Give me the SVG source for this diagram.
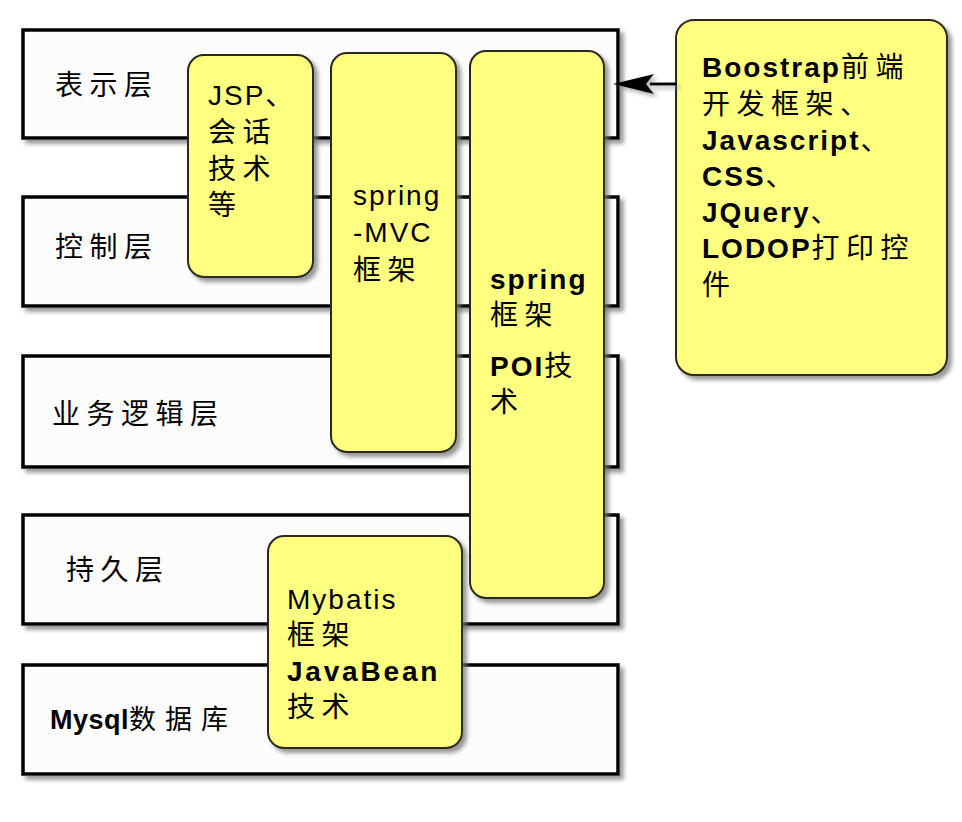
<svg xmlns="http://www.w3.org/2000/svg" width="962" height="822" viewBox="0 0 962 822">
<style>
text{font-family:"Liberation Sans","Noto Sans CJK SC",sans-serif;font-size:28px;fill:#000;letter-spacing:2px}
.b{font-weight:bold}
.c{letter-spacing:6.5px;font-weight:normal}
.layer{fill:#fcfcfc;stroke:#000;stroke-width:3.5}
.note{fill:#ffff80;stroke:#2a2a1a;stroke-width:2}
</style>
<defs>
<filter id="sh" x="-10%" y="-10%" width="130%" height="130%">
<feDropShadow dx="4" dy="4" stdDeviation="2.2" flood-color="#777" flood-opacity="0.75"/>
</filter>
<filter id="shu" filterUnits="userSpaceOnUse" x="590" y="60" width="110" height="50">
<feDropShadow dx="3" dy="3" stdDeviation="2" flood-color="#777" flood-opacity="0.6"/>
</filter>
</defs>
<rect width="962" height="822" fill="#fff"/>
<g id="layer-presentation">
<rect class="layer" x="23" y="30" width="595" height="108" filter="url(#sh)"/>
<text x="55" y="95"><tspan class="c">表示层</tspan></text>
</g>
<g id="layer-control">
<rect class="layer" x="23" y="197" width="595" height="109" filter="url(#sh)"/>
<text x="55" y="257"><tspan class="c">控制层</tspan></text>
</g>
<g id="layer-business">
<rect class="layer" x="23" y="356" width="595" height="111" filter="url(#sh)"/>
<text x="52" y="424"><tspan class="c">业务逻辑层</tspan></text>
</g>
<g id="layer-persistence">
<rect class="layer" x="23" y="515" width="595" height="109" filter="url(#sh)"/>
<text x="66" y="580"><tspan class="c">持久层</tspan></text>
</g>
<g id="layer-mysql">
<rect class="layer" x="23" y="665" width="595" height="109" filter="url(#sh)"/>
<text x="50" y="729" class="b" style="font-size:27px;letter-spacing:0.5px">Mysql<tspan class="c" style="letter-spacing:9px">数据库</tspan></text>
</g>
<g id="note-jsp">
<rect class="note" x="188" y="55" width="125" height="222" rx="16" filter="url(#sh)"/>
<text x="208" y="105">JSP<tspan class="c">、</tspan></text>
<text x="208" y="142"><tspan class="c">会话</tspan></text>
<text x="208" y="179"><tspan class="c">技术</tspan></text>
<text x="208" y="215"><tspan class="c">等</tspan></text>
</g>
<g id="note-springmvc">
<rect class="note" x="331" y="53" width="125" height="399" rx="16" filter="url(#sh)"/>
<text x="353" y="205">spring</text>
<text x="353" y="242">-MVC</text>
<text x="353" y="280"><tspan class="c">框架</tspan></text>
</g>
<g id="note-spring">
<rect class="note" x="470" y="51" width="134" height="547" rx="16" filter="url(#sh)"/>
<text x="490" y="289" class="b">spring</text>
<text x="490" y="325"><tspan class="c">框架</tspan></text>
<text x="490" y="376" class="b">POI<tspan class="c">技</tspan></text>
<text x="490" y="412"><tspan class="c">术</tspan></text>
</g>
<g id="note-mybatis">
<rect class="note" x="268" y="536" width="194" height="212" rx="16" filter="url(#sh)"/>
<text x="287" y="609">Mybatis</text>
<text x="287" y="645"><tspan class="c">框架</tspan></text>
<text x="287" y="681" class="b" style="letter-spacing:2.8px">JavaBean</text>
<text x="287" y="717"><tspan class="c">技术</tspan></text>
</g>
<g id="note-frontend">
<rect class="note" x="676" y="20" width="271" height="355" rx="18" filter="url(#sh)"/>
<text x="702" y="77" class="b">Boostrap<tspan class="c">前端</tspan></text>
<text x="702" y="114"><tspan class="c">开发框架、</tspan></text>
<text x="702" y="150" class="b">Javascript<tspan class="c">、</tspan></text>
<text x="702" y="186" class="b">CSS<tspan class="c">、</tspan></text>
<text x="702" y="222" class="b">JQuery<tspan class="c">、</tspan></text>
<text x="702" y="258" class="b">LODOP<tspan class="c">打印控</tspan></text>
<text x="702" y="295"><tspan class="c">件</tspan></text>
</g>
<g id="connectors" filter="url(#shu)">
<line x1="677" y1="84" x2="650" y2="84" stroke="#000" stroke-width="3"/>
<path d="M613,84 L654,74 L646,84 L654,94 Z" fill="#000"/>
</g>
</svg>
